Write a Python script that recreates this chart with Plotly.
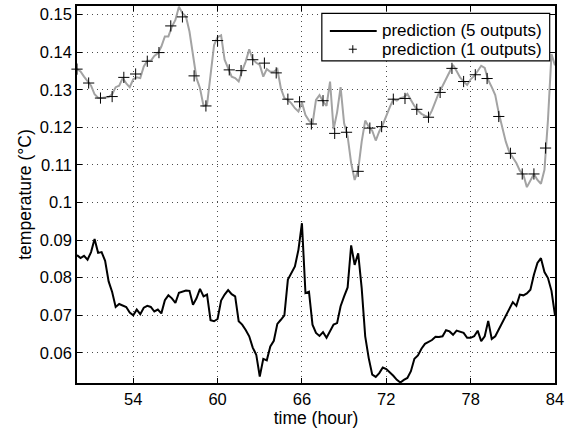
import numpy as np
import plotly.graph_objects as go

# time grid of the two continuous series (hours)
time_h = np.arange(50.0, 84.001, 0.25)

# measured temperature (grey line)
measured = [
    0.1355, 0.1349, 0.1335, 0.1324, 0.1311, 0.1288, 0.1279, 0.1278, 0.1279, 0.1281,
    0.1288, 0.1307, 0.1311, 0.1331, 0.1317, 0.1307, 0.1328, 0.1333, 0.1331, 0.1362,
    0.1377, 0.1377, 0.1390, 0.1397, 0.1415, 0.1442, 0.1442, 0.1468, 0.1486, 0.1521,
    0.1504, 0.1495, 0.1455, 0.1388, 0.1331, 0.1304, 0.1257, 0.1260, 0.1349, 0.1419,
    0.1440, 0.1445, 0.1380, 0.1355, 0.1335, 0.1331, 0.1322, 0.1351, 0.1375, 0.1408,
    0.1381, 0.1372, 0.1366, 0.1335, 0.1355, 0.1348, 0.1348, 0.1355, 0.1304, 0.1278,
    0.1273, 0.1264, 0.1251, 0.1242, 0.1266, 0.1233, 0.1218, 0.1209, 0.1273, 0.1286,
    0.1269, 0.1257, 0.1322, 0.1195, 0.1240, 0.1307, 0.1211, 0.1176, 0.1105, 0.1060,
    0.1087, 0.1162, 0.1218, 0.1202, 0.1191, 0.1165, 0.1189, 0.1207, 0.1233, 0.1254,
    0.1275, 0.1271, 0.1278, 0.1280, 0.1289, 0.1271, 0.1257, 0.1245, 0.1236, 0.1231,
    0.1227, 0.1245, 0.1269, 0.1293, 0.1310, 0.1328, 0.1346, 0.1366, 0.1350, 0.1333,
    0.1322, 0.1313, 0.1328, 0.1337, 0.1350, 0.1364, 0.1358, 0.1326, 0.1307, 0.1286,
    0.1238, 0.1202, 0.1162, 0.1134, 0.1121, 0.1105, 0.1085, 0.1074, 0.1041, 0.1060,
    0.1076, 0.1060, 0.1050, 0.1087, 0.1220, 0.1395, 0.1365,
]

# prediction with 5 outputs (black line)
pred5 = [
    0.0860, 0.0852, 0.0858, 0.0848, 0.0868, 0.0903, 0.0866, 0.0868, 0.0845, 0.0790,
    0.0762, 0.0722, 0.0730, 0.0725, 0.0722, 0.0707, 0.0700, 0.0715, 0.0703, 0.0720,
    0.0725, 0.0722, 0.0710, 0.0715, 0.0705, 0.0740, 0.0753, 0.0745, 0.0733, 0.0760,
    0.0762, 0.0766, 0.0765, 0.0728, 0.0745, 0.0770, 0.0750, 0.0755, 0.0687, 0.0684,
    0.0690, 0.0739, 0.0755, 0.0767, 0.0756, 0.0750, 0.0684, 0.0675, 0.0661, 0.0644,
    0.0614, 0.0595, 0.0537, 0.0584, 0.0580, 0.0617, 0.0632, 0.0677, 0.0688, 0.0700,
    0.0795, 0.0812, 0.0830, 0.0874, 0.0945, 0.0759, 0.0763, 0.0675, 0.0653, 0.0645,
    0.0655, 0.0640, 0.0658, 0.0675, 0.0679, 0.0724, 0.0750, 0.0774, 0.0886, 0.0834,
    0.0865, 0.0772, 0.0644, 0.0586, 0.0542, 0.0536, 0.0546, 0.0561, 0.0557, 0.0549,
    0.0539, 0.0528, 0.0521, 0.0528, 0.0533, 0.0551, 0.0584, 0.0593, 0.0611, 0.0624,
    0.0630, 0.0634, 0.0643, 0.0642, 0.0644, 0.0660, 0.0657, 0.0648, 0.0659, 0.0655,
    0.0653, 0.0640, 0.0640, 0.0644, 0.0659, 0.0631, 0.0644, 0.0685, 0.0637, 0.0644,
    0.0662, 0.0679, 0.0699, 0.0719, 0.0735, 0.0725, 0.0755, 0.0753, 0.0758, 0.0768,
    0.0808, 0.0839, 0.0852, 0.0815, 0.0799, 0.0765, 0.0700,
]

# prediction with 1 output ("+" markers)
pred1_time = [
    50.0, 50.83, 51.67, 52.5, 53.33, 54.17, 55.0, 55.83, 56.67, 57.5, 58.33,
    59.17, 60.0, 60.83, 61.67, 62.5, 63.33, 64.17, 65.0, 65.83, 66.67, 67.5,
    68.33, 69.17, 70.0, 70.83, 71.67, 72.5, 73.33, 74.17, 75.0, 75.83, 76.67,
    77.5, 78.33, 79.17, 80.0, 80.83, 81.67, 82.5, 83.33, 84.15,
]
pred1 = [
    0.1355, 0.1318, 0.1278, 0.1282, 0.1333, 0.1342, 0.1376, 0.1399, 0.1470, 0.1494,
    0.1337, 0.1257, 0.1431, 0.1353, 0.1351, 0.1380, 0.1371, 0.1345, 0.1275, 0.1268,
    0.1209, 0.1271, 0.1184, 0.1187, 0.1083, 0.1198, 0.1202, 0.1275, 0.1277, 0.1248,
    0.1227, 0.1293, 0.1357, 0.1322, 0.1340, 0.1330, 0.1229, 0.1131, 0.1076, 0.1076,
    0.1145, 0.1335,
]

x_ticks = [54, 60, 66, 72, 78, 84]
y_ticks = [0.06, 0.07, 0.08, 0.09, 0.10, 0.11, 0.12, 0.13, 0.14, 0.15]
y_tick_labels = ["0.06", "0.07", "0.08", "0.09", "0.1", "0.11", "0.12", "0.13", "0.14", "0.15"]
legend_labels = ["prediction (5 outputs)", "prediction (1 outputs)"]

FONT = "Liberation Sans, Arial, Helvetica, sans-serif"

fig = go.Figure()
fig.add_trace(go.Scatter(
    x=time_h, y=measured, mode="lines",
    line=dict(color="#a3a3a3", width=2), showlegend=False, hoverinfo="skip",
))
fig.add_trace(go.Scatter(
    x=time_h, y=pred5, mode="lines", name=legend_labels[0],
    line=dict(color="black", width=2), showlegend=False,
))
fig.add_trace(go.Scatter(
    x=pred1_time, y=pred1, mode="markers", name=legend_labels[1],
    marker=dict(symbol="cross-thin", size=8, color="black",
                line=dict(color="black", width=1)),
    cliponaxis=False, showlegend=False,
))

axis_common = dict(
    showline=True, linecolor="black", linewidth=1.5, mirror="ticks",
    ticks="inside", ticklen=5, tickcolor="black", tickwidth=1,
    showgrid=True, gridcolor="rgba(0,0,0,0.7)", gridwidth=1, griddash="1px,4px",
    zeroline=False, tickfont=dict(family=FONT, size=16.5, color="black"),
)

fig.update_xaxes(
    range=[50, 84], tickvals=x_ticks,
    title=dict(text="time (hour)", font=dict(family=FONT, size=17.5, color="black"), standoff=5),
    **axis_common,
)
fig.update_yaxes(
    range=[0.05197, 0.1523], tickvals=y_ticks, ticktext=y_tick_labels,
    title=dict(text="temperature (°C)", font=dict(family=FONT, size=17.5, color="black"), standoff=4),
    **axis_common,
)

# legend box drawn in the MATLAB style (box, line sample, "+" sample, labels)
lg_x0, lg_x1, lg_y0, lg_y1 = 0.5122, 0.9889, 0.8542, 0.9807
row_y = [0.9337, 0.8854]
sample_x0, sample_x1 = 0.529, 0.627
plus_x, plus_dx, plus_dy = 0.577, 0.0084, 0.0106
text_x = 0.6335

shapes = [
    dict(type="rect", xref="paper", yref="paper", x0=lg_x0, x1=lg_x1, y0=lg_y0, y1=lg_y1,
         line=dict(color="black", width=1.2), fillcolor="white", layer="above"),
    dict(type="line", xref="paper", yref="paper", x0=sample_x0, x1=sample_x1,
         y0=row_y[0], y1=row_y[0], line=dict(color="black", width=2), layer="above"),
    dict(type="line", xref="paper", yref="paper", x0=plus_x - plus_dx, x1=plus_x + plus_dx,
         y0=row_y[1], y1=row_y[1], line=dict(color="black", width=1), layer="above"),
    dict(type="line", xref="paper", yref="paper", x0=plus_x, x1=plus_x,
         y0=row_y[1] - plus_dy, y1=row_y[1] + plus_dy, line=dict(color="black", width=1), layer="above"),
]
annotations = [
    dict(xref="paper", yref="paper", x=text_x, y=ry, xanchor="left", yanchor="middle",
         text=lab, showarrow=False, font=dict(family=FONT, size=17, color="black"))
    for ry, lab in zip(row_y, legend_labels)
]

fig.update_layout(
    width=578, height=433,
    margin=dict(l=77, r=23, t=6, b=50, autoexpand=False),
    paper_bgcolor="white", plot_bgcolor="white",
    font=dict(family=FONT, size=16, color="black"),
    showlegend=False,
    shapes=shapes, annotations=annotations,
)

fig.write_html("out.html")
